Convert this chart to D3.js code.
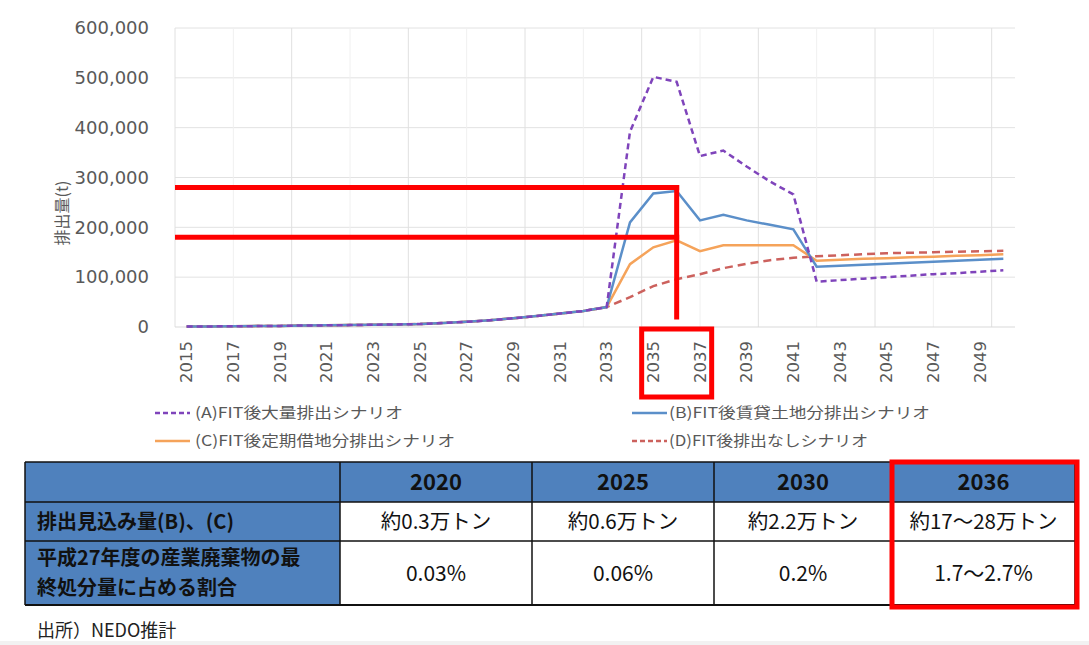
<!DOCTYPE html>
<html>
<head>
<meta charset="utf-8">
<script src="https://cdn.jsdelivr.net/npm/d3@7"></script>
<style>
  body { margin: 0; background: #fff; }
  text { font-family: "Noto Sans CJK JP", "DejaVu Sans", sans-serif; }
</style>
</head>
<body>
<svg id="chart" width="1089" height="645"></svg>
<script>
// categories
const years = [2015, 2016, 2017, 2018, 2019, 2020, 2021, 2022, 2023, 2024, 2025, 2026,
  2027, 2028, 2029, 2030, 2031, 2032, 2033, 2034, 2035, 2036, 2037, 2038,
  2039, 2040, 2041, 2042, 2043, 2044, 2045, 2046, 2047, 2048, 2049, 2050];
const yearLabels = [2015, 2017, 2019, 2021, 2023, 2025, 2027, 2029, 2031, 2033,
  2035, 2037, 2039, 2041, 2043, 2045, 2047, 2049];
const majorGridYears = [2015, 2020, 2025, 2030, 2035, 2040, 2045, 2050];
const minorGridYears = [2017, 2022, 2027, 2032, 2037, 2042, 2047];
const yTicks = [0, 100000, 200000, 300000, 400000, 500000, 600000];

// series values (t)
const seriesA = [1000, 1200, 1500, 1800, 2200, 3000, 3300, 3800, 4500, 5200, 6000, 8000,
  10500, 13500, 17500, 22000, 27000, 32000, 40000, 392000, 502000, 492000, 343000, 354000,
  322000, 292000, 266000, 91000, 94000, 97000, 100000, 103000, 106000, 108000, 111000, 114000];
const seriesB = [1000, 1200, 1500, 1800, 2200, 3000, 3300, 3800, 4500, 5200, 6000, 8000,
  10500, 13500, 17500, 22000, 27000, 32000, 40000, 210000, 268000, 273000, 214000, 225000,
  214000, 205000, 196000, 121000, 123000, 125000, 127000, 129000, 131000, 133000, 135000, 137000];
const seriesC = [1000, 1200, 1500, 1800, 2200, 3000, 3300, 3800, 4500, 5200, 6000, 8000,
  10500, 13500, 17500, 22000, 27000, 32000, 40000, 126000, 160000, 174000, 152000, 164000,
  164000, 164000, 164000, 133000, 135000, 137000, 138000, 140000, 141000, 143000, 144000, 146000];
const seriesD = [1000, 1200, 1500, 1800, 2200, 3000, 3300, 3800, 4500, 5200, 6000, 8000,
  10500, 13500, 17500, 22000, 27000, 32000, 40000, 60000, 82000, 96000, 106000, 118000,
  127000, 134000, 139000, 142000, 144000, 146000, 148000, 149000, 150000, 151000, 152000, 153000];
const seriesNames = ["(A)FIT後大量排出シナリオ", "(B)FIT後賃貸土地分排出シナリオ",
  "(C)FIT後定期借地分排出シナリオ", "(D)FIT後排出なしシナリオ"];

// highlight annotation
const highlightYear = 2036;
const highlightLevels = [280000, 180000];
const highlightBottom = 15000;
const highlightLabelYears = [2035, 2037];

// table
const tableYears = ["2020", "2025", "2030", "2036"];
const rowLabels = [["排出見込み量(B)、(C)"], ["平成27年度の産業廃棄物の最", "終処分量に占める割合"]];
const amounts = ["約0.3万トン", "約0.6万トン", "約2.2万トン", "約17～28万トン"];
const shares = ["0.03%", "0.06%", "0.2%", "1.7～2.7%"];
const source = "出所）NEDO推計";

const svg = d3.select("#chart");

const x = d3.scaleBand().domain(years).range([175, 1015]);
const y = d3.scaleLinear().domain([0, 600000]).range([327, 28]);
const bw = x.bandwidth();
const cx = d => x(d) + bw / 2;

// grid
svg.append("g").selectAll("line").data(yTicks.slice(1)).enter().append("line")
  .attr("x1", 175).attr("x2", 1015)
  .attr("y1", d => y(d)).attr("y2", d => y(d))
  .style("stroke", "#e2e2e2").style("stroke-width", 1);
svg.append("g").selectAll("line").data(minorGridYears).enter().append("line")
  .attr("x1", d => cx(d)).attr("x2", d => cx(d))
  .attr("y1", y(600000)).attr("y2", y(0))
  .style("stroke", "#f0f0f0").style("stroke-width", 1);
svg.append("g").selectAll("line").data(majorGridYears).enter().append("line")
  .attr("x1", d => d === 2050 ? x(2049) + bw : x(d))
  .attr("x2", d => d === 2050 ? x(2049) + bw : x(d))
  .attr("y1", y(600000)).attr("y2", y(0))
  .style("stroke", "#e0e0e0").style("stroke-width", 1);
svg.append("line")
  .attr("x1", 175).attr("x2", 1015).attr("y1", y(0)).attr("y2", y(0))
  .style("stroke", "#d9d9d9").style("stroke-width", 1);

// axes
const yAxis = svg.append("g")
  .attr("transform", "translate(152,0)")
  .call(d3.axisLeft(y).tickValues(yTicks).tickFormat(d3.format(",")).tickSize(0));
yAxis.select(".domain").remove();
yAxis.selectAll("text")
  .style("font-family", "DejaVu Sans").style("font-size", "18px").style("fill", "#595959");

const xAxis = svg.append("g")
  .attr("transform", "translate(0,341)")
  .call(d3.axisBottom(x).tickValues(yearLabels).tickSize(0));
xAxis.select(".domain").remove();
xAxis.selectAll("text")
  .attr("transform", "rotate(-90)")
  .attr("x", 0).attr("y", 0).attr("dy", "0.35em")
  .style("text-anchor", "end")
  .style("font-family", "DejaVu Sans").style("font-size", "16.5px").style("fill", "#595959");

svg.append("text")
  .attr("transform", "translate(62,213) rotate(-90)")
  .attr("dy", "0.35em")
  .style("text-anchor", "middle").style("font-size", "16px").style("fill", "#595959")
  .text("排出量(t)");

// lines
const series = [
  { values: seriesD, color: "#cc615d", dash: "8,5" },
  { values: seriesC, color: "#f5a35a", dash: null },
  { values: seriesB, color: "#5b8fc9", dash: null },
  { values: seriesA, color: "#7f44bb", dash: "6,4" }
];
const line = d3.line().x((d, i) => cx(years[i])).y(d => y(d));
svg.append("g").selectAll("path").data(series).enter().append("path")
  .attr("d", d => line(d.values))
  .style("fill", "none")
  .style("stroke", d => d.color)
  .style("stroke-width", 2.5)
  .style("stroke-dasharray", d => d.dash);

// red highlight
const red = "#ff0000";
const hx = cx(highlightYear);
svg.append("g").selectAll("line").data(highlightLevels).enter().append("line")
  .attr("x1", 175).attr("x2", hx + 2.5)
  .attr("y1", d => y(d)).attr("y2", d => y(d))
  .style("stroke", red).style("stroke-width", 5);
svg.append("line")
  .attr("x1", hx).attr("x2", hx)
  .attr("y1", y(highlightLevels[0]) - 2.5).attr("y2", y(highlightBottom))
  .style("stroke", red).style("stroke-width", 5);
svg.append("rect")
  .attr("x", x(highlightLabelYears[0]))
  .attr("y", 329)
  .attr("width", x(highlightLabelYears[1]) + bw - x(highlightLabelYears[0]))
  .attr("height", 68)
  .style("fill", "none").style("stroke", red).style("stroke-width", 5);

// legend
const legendPos = [
  { x: 155, y: 413, tx: 195, len: 208 },
  { x: 632, y: 413, tx: 669, len: 261 },
  { x: 155, y: 441, tx: 195, len: 260 },
  { x: 632, y: 441, tx: 669, len: 199 }
];
const legendStyle = [series[3], series[2], series[1], series[0]];
const legend = svg.append("g").selectAll("g").data(seriesNames).enter().append("g");
legend.append("line")
  .attr("x1", (d, i) => legendPos[i].x).attr("x2", (d, i) => legendPos[i].x + 35)
  .attr("y1", (d, i) => legendPos[i].y).attr("y2", (d, i) => legendPos[i].y)
  .style("stroke", (d, i) => legendStyle[i].color)
  .style("stroke-width", 2.5)
  .style("stroke-dasharray", (d, i) => legendStyle[i].dash ? "5,3" : null);
legend.append("text")
  .attr("x", (d, i) => legendPos[i].tx).attr("y", (d, i) => legendPos[i].y)
  .attr("dy", "0.35em")
  .attr("textLength", (d, i) => legendPos[i].len)
  .attr("lengthAdjust", "spacingAndGlyphs")
  .style("font-size", "15px").style("fill", "#595959")
  .text(d => d);

// table
const colX = [25, 340, 532, 714, 892, 1075];
const rowY = [462, 502, 541, 605];
const blue = "#4f81bd";
const tbl = svg.append("g");
// header row
tbl.selectAll("rect.h").data(d3.range(5)).enter().append("rect")
  .attr("x", i => colX[i]).attr("y", rowY[0])
  .attr("width", i => colX[i + 1] - colX[i]).attr("height", rowY[1] - rowY[0])
  .style("fill", blue);
// body rows
[amounts, shares].forEach((vals, r) => {
  tbl.append("rect")
    .attr("x", colX[0]).attr("y", rowY[r + 1])
    .attr("width", colX[1] - colX[0]).attr("height", rowY[r + 2] - rowY[r + 1])
    .style("fill", blue);
  tbl.selectAll(null).data(vals).enter().append("rect")
    .attr("x", (d, i) => colX[i + 1]).attr("y", rowY[r + 1])
    .attr("width", (d, i) => colX[i + 2] - colX[i + 1]).attr("height", rowY[r + 2] - rowY[r + 1])
    .style("fill", "#fff");
  tbl.selectAll(null).data(vals).enter().append("text")
    .attr("x", (d, i) => (colX[i + 1] + colX[i + 2]) / 2)
    .attr("y", (rowY[r + 1] + rowY[r + 2]) / 2)
    .attr("dy", "0.36em")
    .style("text-anchor", "middle")
    .style("font-size", r === 0 ? "20.5px" : "21px").style("fill", "#111")
    .text(d => d);
  const lines = rowLabels[r];
  tbl.selectAll(null).data(lines).enter().append("text")
    .attr("x", 37)
    .attr("y", (d, i) => (rowY[r + 1] + rowY[r + 2]) / 2 + (i - (lines.length - 1) / 2) * 29.5)
    .attr("dy", "0.36em")
    .style("font-size", "20px").style("font-weight", "bold").style("fill", "#111")
    .text(d => d);
});
tbl.selectAll("text.h").data(tableYears).enter().append("text")
  .attr("x", (d, i) => (colX[i + 1] + colX[i + 2]) / 2)
  .attr("y", (rowY[0] + rowY[1]) / 2)
  .attr("dy", "0.36em")
  .style("text-anchor", "middle")
  .style("font-size", "22px").style("font-weight", "bold").style("fill", "#111")
  .text(d => d);
// borders
tbl.selectAll("line.v").data(colX).enter().append("line")
  .attr("x1", d => d).attr("x2", d => d).attr("y1", rowY[0]).attr("y2", rowY[3])
  .style("stroke", "#111").style("stroke-width", 1.5);
tbl.selectAll("line.hz").data(rowY).enter().append("line")
  .attr("x1", colX[0]).attr("x2", colX[5]).attr("y1", d => d).attr("y2", d => d)
  .style("stroke", "#111").style("stroke-width", (d, i) => i === 3 ? 2 : 1.5);
// highlight on table column
tbl.append("rect")
  .attr("x", colX[4]).attr("y", rowY[0])
  .attr("width", colX[5] - colX[4] + 2).attr("height", rowY[3] - rowY[0] + 2)
  .style("fill", "none").style("stroke", red).style("stroke-width", 5);

// source
svg.append("text")
  .attr("x", 37).attr("y", 631).attr("dy", "0.35em")
  .style("font-size", "18px").style("fill", "#222")
  .text(source);
svg.append("rect")
  .attr("x", 0).attr("y", 641).attr("width", 1089).attr("height", 4)
  .style("fill", "#f2f2f2");
</script>
</body>
</html>
